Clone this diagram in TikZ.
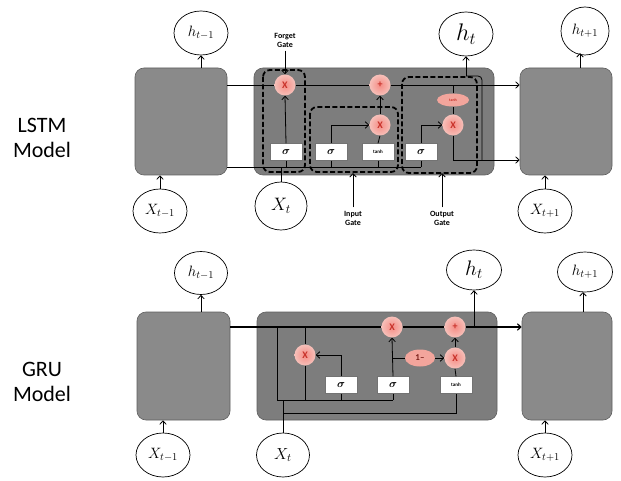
\RequirePackage{fix-cm}
\documentclass[tikz,border=0pt]{standalone}
\usepackage{amsmath}
\usepackage{fontspec}
\setsansfont{Carlito}
\usetikzlibrary{arrows.meta, positioning, calc, shapes.geometric}
\definecolor{cellgray}{HTML}{8A8A8A}
\definecolor{coregray}{HTML}{7D7D7D}
\definecolor{celledge}{HTML}{5E5E5E}
\definecolor{gatepink}{HTML}{F3A59C}
\definecolor{gatered} {HTML}{C8322A}

\begin{document}
\begin{tikzpicture}[
  x=1pt, y=-1pt,
  % Cells are sized per node; only the look is shared.
  cell/.style={draw=celledge, fill=cellgray, rounded corners=9pt, line width=0.6pt,
               inner sep=0pt, minimum width=92pt, minimum height=107pt},
  core/.style={cell, fill=coregray, minimum width=240pt},
  state/.style={ellipse, draw, fill=white, line width=0.7pt, inner sep=0pt,
                minimum width=54pt, minimum height=44pt, font=\fontsize{15}{18}\selectfont},
  op/.style={circle, inner color=gatepink!85!red, outer color=gatepink!70!white,
             text=gatered, inner sep=0pt, minimum size=21pt,
             font=\sffamily\bfseries\fontsize{10}{10}\selectfont},
  act/.style={draw=black!55, fill=white, inner sep=0pt, minimum width=32pt,
              minimum height=17pt, font=\fontsize{11}{11}\selectfont},
  arr/.style={-{Straight Barb[length=3.5pt, width=6.5pt]}, line width=0.8pt},
  wire/.style={line width=0.8pt},
  gatebox/.style={draw, dash pattern=on 5pt off 2.5pt, line width=1.8pt, rounded corners=7pt},
  glabel/.style={font=\sffamily\bfseries\fontsize{8}{9}\selectfont, align=center},
  model/.style={font=\sffamily\fontsize{22}{25}\selectfont, align=center}
]
\useasboundingbox (0,0) rectangle (621,481);

% --- Row labels ---
\node[model] (lstmname) at (42,138) {LSTM\\Model};
\node[model] (gruname)  at (42,382) {GRU\\Model};

% ================= LSTM =================
\node[cell] (lprev) at (181,121.5) {};
\node[core] (lcore) at (374,121.5) {};
\node[cell] (lnext) at (566,121.5) {};

\node[state] (lhprev) at (201,33) {$h_{t-1}$};
\node[state] (lxprev) at (160,211) {$X_{t-1}$};
\node[state, font=\fontsize{24}{26}\selectfont] (lht) at (466,34) {$h_t$};
\node[state, minimum width=52pt, minimum height=48pt, font=\fontsize{18}{20}\selectfont] (lxt) at (281,206) {$X_t$};
\node[state, minimum width=48pt, minimum height=48pt] (lhnext) at (585,31) {$h_{t+1}$};
\node[state] (lxnext) at (545,211) {$X_{t+1}$};

\coordinate (lhnextfoot) at (580,53);
\draw[arr] (lhprev |- lprev.north) -- (lhprev.south);
\draw[arr] (lxprev.north) -- (lxprev |- lprev.south);
\draw[arr] (lhnextfoot |- lnext.north) -- (lhnextfoot);
\draw[arr] (lxnext.north) -- (lxnext |- lnext.south);

% --- gates inside the LSTM cell ---
\node[op] (fx)    at (285,85)  {X};
\node[op] (cplus) at (380,85)  {+};
\node[op] (ix)    at (380,125) {X};
\node[op] (ox)    at (453,125) {X};
\node[ellipse, fill=gatepink, text=gatered, inner sep=0pt, minimum width=32pt,
      minimum height=13pt, font=\sffamily\bfseries\fontsize{4}{4}\selectfont] (otanh) at (453,100) {tanh};
\node[act] (fsig) at (286,152) {$\boldsymbol{\sigma}$};
\node[act] (isig) at (331,152) {$\boldsymbol{\sigma}$};
\node[act, font=\sffamily\bfseries\fontsize{5}{5}\selectfont] (itanh) at (378,152) {tanh};
\node[act] (osig) at (421,152) {$\boldsymbol{\sigma}$};

\coordinate (ctop)  at (227,85);
\coordinate (cbot)  at (227,167);
\coordinate (hout)  at (482,76);
\coordinate (hlow)  at (482,160);

% cell state and input lines
\draw[wire] (ctop) -- (fx.west);
\draw[wire] (fx.east) -- (cplus.west);
\draw[arr]  (cplus.east) -- (lnext.west |- cplus);
\draw[wire] (cbot) -- (osig.south |- cbot);
\foreach \g in {fsig, isig, itanh, osig}
  \draw[wire] (\g.south) -- (\g.south |- cbot);
\draw[wire] (lxt.north) -- (lxt.north |- cbot);

\draw[arr]  (fsig.north) -- (fx.south);
\draw[arr]  (isig.north) |- (ix.west);
\draw[wire] (itanh.north) -- (ix.south);
\draw[arr]  (ix.north) -- (cplus.south);
\draw[arr]  (osig.north) |- (ox.west);
\draw[wire] (ox.north) -- (otanh.south);
\draw[wire] (otanh.north) -- (otanh.north |- cplus);
\draw[arr]  (ox.south) |- (lnext.west |- hlow);
\draw[wire, rounded corners=4pt] (hlow) -- (hout) -- (lht |- hout);
\draw[arr]  (lht |- hout) -- (lht.south);

% --- dashed gate outlines ---
\draw[gatebox] (263,70) rectangle (305,172);
\draw[gatebox] (310,107) rectangle (398,172);
\draw[gatebox] (402,77) rectangle (477,173);

\node[glabel] (fgate) at (285,40)  {Forget\\Gate};
\node[glabel] (igate) at (353,218) {Input\\Gate};
\node[glabel] (ogate) at (442,218) {Output\\Gate};
\coordinate (igtop) at (353,173);
\coordinate (ogtop) at (442,173);
\draw[arr] (fgate.south) -- (fx.north);
\draw[arr] (igate.north) -- (igtop);
\draw[arr] (ogate.north) -- (ogtop);

% ================= GRU =================
\node[cell, minimum width=93pt, minimum height=108pt] (gprev) at (183.5,366) {};
\node[core, minimum height=108pt] (gcore) at (377,366) {};
\node[cell, minimum width=90pt, minimum height=108pt] (gnext) at (567,366) {};

\node[state, minimum width=53pt, minimum height=43pt] (ghprev) at (201,273) {$h_{t-1}$};
\node[state] (gxprev) at (163,455) {$X_{t-1}$};
\node[state, minimum width=55pt, minimum height=40pt, font=\fontsize{21}{23}\selectfont] (ght) at (474,270) {$h_t$};
\node[state, minimum width=53pt, font=\fontsize{16}{18}\selectfont] (gxt) at (283,455) {$X_t$};
\node[state, minimum width=55pt, minimum height=40pt] (ghnext) at (585,272) {$h_{t+1}$};
\node[state] (gxnext) at (545,455) {$X_{t+1}$};

\coordinate (ghnextfoot) at (583,292);
\draw[arr] (gprev.north -| ghprev) -- (ghprev.south);
\draw[arr] (gxprev.north) -- (gxprev |- gprev.south);
\draw[arr] (ghnextfoot |- gnext.north) -- (ghnextfoot);
\draw[arr] (gxnext.north) -- (gxnext |- gnext.south);

% --- gates inside the GRU cell ---
\node[op] (rx)    at (305,355) {X};
\node[op] (zx)    at (392,327) {X};
\node[op] (hplus) at (455,327) {+};
\node[op] (hx)    at (455,358) {X};
\node[ellipse, fill=gatepink, text=gatered!60!black, inner sep=0pt, minimum width=30pt,
      minimum height=17pt, font=\sffamily\bfseries\fontsize{9}{9}\selectfont] (onem) at (420,358) {1–};
\node[act] (rsig) at (341,385) {$\boldsymbol{\sigma}$};
\node[act] (zsig) at (393,385) {$\boldsymbol{\sigma}$};
\node[act, font=\sffamily\bfseries\fontsize{5}{5}\selectfont] (htanh) at (456,385) {tanh};

\coordinate (gtop) at (230,327);
\coordinate (gleft) at (277,400);
\coordinate (glow) at (283,413);

\draw[line width=1.4pt] (gtop) -- (zx.west);
\draw[line width=1.4pt] (zx.east) -- (hplus.west);
\draw[arr, line width=1.1pt] (hplus.east) -- (gnext.west |- hplus);
\draw[arr] (ght |- hplus) -- (ght.south);

\draw[wire] (gleft |- gtop) -- (gleft) -- (zsig.south |- gleft);
\draw[wire] (rx |- gtop) -- (rx.north);
\draw[wire] (rx.south) -- (rx |- gleft);
\draw[wire] (rsig.south) -- (rsig.south |- gleft);
\draw[wire] (zsig.south) -- (zsig.south |- gleft);
\draw[wire] (gxt.north) -- (gxt.north |- gleft);
\draw[wire] (htanh.south) |- (glow);

\draw[arr]  (rsig.north) |- (rx.east);
\draw[arr]  (zsig.north) -- (zx.south);
\draw[wire] (zsig.north |- onem) -- (onem.west);
\draw[arr]  (onem.east) -- (hx.west);
\draw[wire] (htanh.north) -- (hx.south);
\draw[arr]  (hx.north) -- (hplus.south);

\end{tikzpicture}
\end{document}
